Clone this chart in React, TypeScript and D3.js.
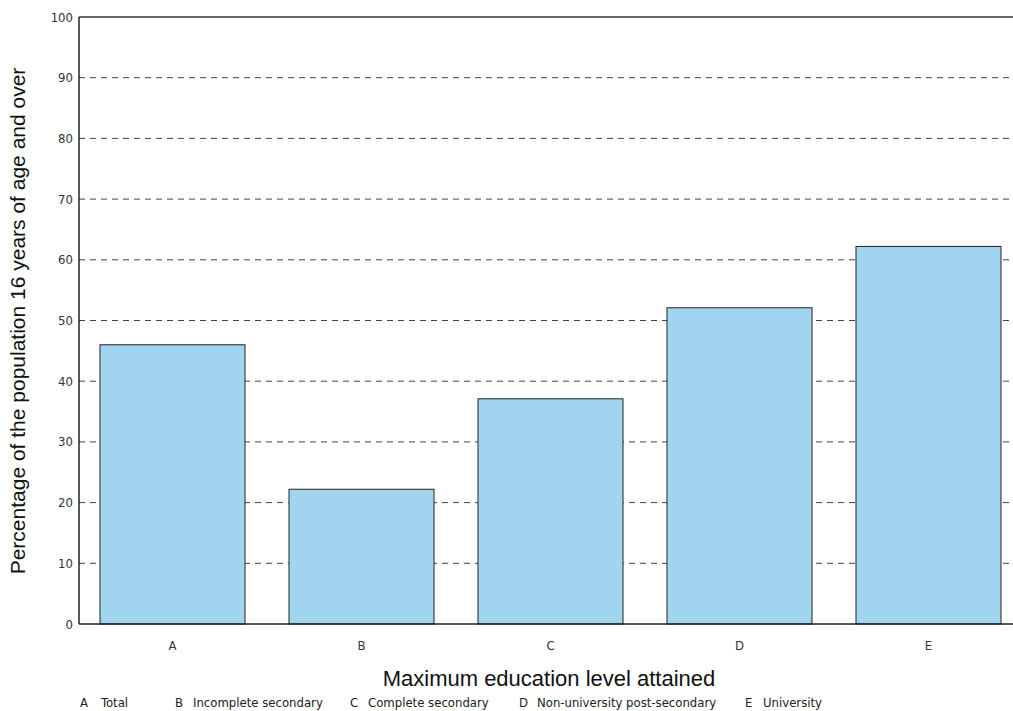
import React from "react";
import * as d3 from "d3";

const categories = ["A", "B", "C", "D", "E"];
const values = [46, 22.2, 37.1, 52.1, 62.2];
const yTicks = [0, 10, 20, 30, 40, 50, 60, 70, 80, 90, 100];
const legendKeys = ["A", "B", "C", "D", "E"];
const legendLabels = ["Total", "Incomplete secondary", "Complete secondary", "Non-university post-secondary", "University"];
const legendX = [80, 175, 350, 519, 745];

export default function App() {
  const W = 1013, H = 711;
  const left = 79, top = 17, bottom = 624, rightExt = 1023;
  const x = d3.scaleBand<string>().domain(categories).range([78, rightExt]).paddingInner(44 / 189).paddingOuter(22 / 189);
  const y = d3.scaleLinear().domain([0, 100]).range([bottom, top]);
  const narrow = "'Liberation Sans Narrow', 'DejaVu Sans Condensed', 'Arial Narrow', sans-serif";
  const sans = "'Liberation Sans', Arial, sans-serif";
  return (
    <svg width={W} height={H} style={{ position: "absolute", left: 0, top: 0, background: "#fff" }}>
      {yTicks.filter(t => t > 0 && t < 100).map(t => (
        <line key={t} x1={left} x2={W} y1={y(t)} y2={y(t)} stroke="#444" strokeWidth={1} strokeDasharray="6,5" />
      ))}
      {categories.map((c, i) => (
        <rect key={c} x={x(c)!} y={y(values[i])} width={x.bandwidth()} height={bottom - y(values[i])}
          fill="#a0d4ef" stroke="#222" strokeWidth={1} />
      ))}
      <line x1={left} x2={W} y1={top} y2={top} stroke="#333" strokeWidth={1.5} />
      <line x1={left} x2={W} y1={bottom} y2={bottom} stroke="#222" strokeWidth={1.5} />
      <line x1={left} x2={left} y1={top} y2={bottom} stroke="#222" strokeWidth={1.5} />
      {yTicks.map(t => (
        <text key={t} x={73} y={y(t)} dy="0.35em" textAnchor="end" fontFamily={narrow} fontSize={13} fill="#333">{t}</text>
      ))}
      {categories.map(c => (
        <text key={c} x={x(c)! + x.bandwidth() / 2} y={645} dy="0.35em" textAnchor="middle" fontFamily={narrow} fontSize={13} fill="#333">{c}</text>
      ))}
      <text x={549} y={678} dy="0.35em" textAnchor="middle" fontFamily={sans} fontSize={22} fill="#111">Maximum education level attained</text>
      <text transform={`translate(18,${(65 + 577) / 2}) rotate(-90)`} dy="0.35em" textAnchor="middle" fontFamily={sans} fontSize={21} fill="#111">Percentage of the population 16 years of age and over</text>
      {legendKeys.map((k, i) => (
        <g key={k}>
          <text x={legendX[i]} y={702} dy="0.35em" fontFamily={narrow} fontSize={13} fill="#222">{k}</text>
          <text x={legendX[i] + (i === 0 ? 21 : 18)} y={702} dy="0.35em" fontFamily={narrow} fontSize={13} fill="#222">{legendLabels[i]}</text>
        </g>
      ))}
    </svg>
  );
}
